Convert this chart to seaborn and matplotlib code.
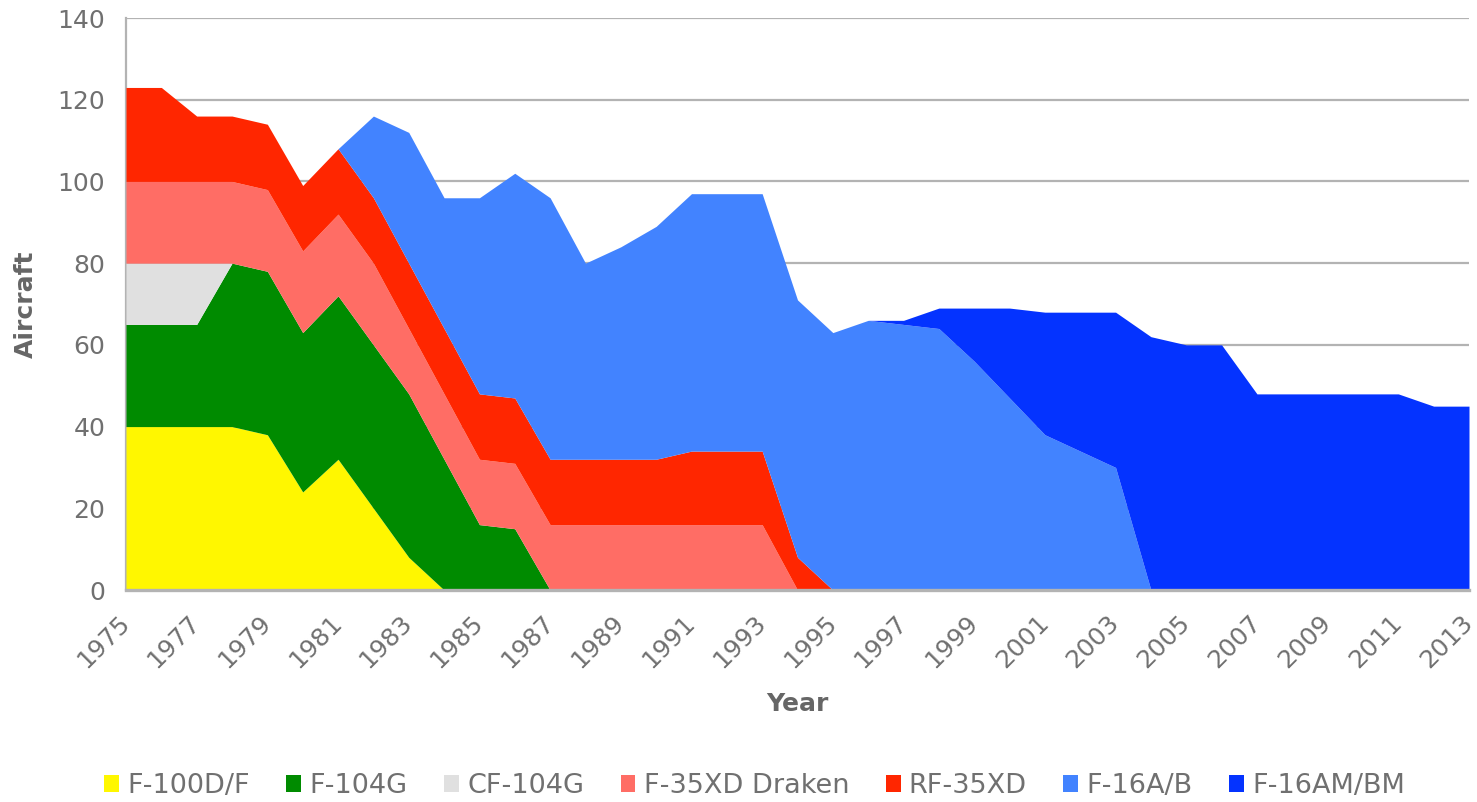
import numpy as np
import pandas as pd
import seaborn as sns
import matplotlib.pyplot as plt

years = list(range(1975, 2014))

f100 = [40, 40, 40, 40, 38, 24, 32, 20, 8] + [0] * 30
f104 = [25, 25, 25, 40, 40, 39, 40, 40, 40, 32, 16, 15] + [0] * 27
cf104 = [15, 15, 15] + [0] * 36
f35 = [20, 20, 20, 20, 20, 20, 20, 20, 16, 16, 16, 16, 16, 16, 16, 16, 16, 16, 16] + [0] * 20
rf35 = [23, 23, 16, 16, 16, 16, 16, 16, 16, 16, 16, 16, 16, 16, 16, 16, 18, 18, 18, 8] + [0] * 19
f16ab = ([0] * 6 + [0, 20, 32, 32, 48, 55, 64, 48, 52, 57, 63, 63, 63, 63, 63,
                    66, 65, 64, 56, 47, 38, 34, 30] + [0] * 10)
f16ambm = ([0] * 21 + [0, 1, 5, 13, 22, 30, 34, 38, 62, 60, 60, 48, 48, 48, 48, 48, 45, 45])

names = ["F-100D/F", "F-104G", "CF-104G", "F-35XD Draken", "RF-35XD", "F-16A/B", "F-16AM/BM"]
colors = ["#FFF700", "#008B00", "#E0E0E0", "#FF6D65", "#FF2600", "#4283FF", "#0433FF"]

df = pd.DataFrame({"Year": years, "F-100D/F": f100, "F-104G": f104, "CF-104G": cf104,
                   "F-35XD Draken": f35, "RF-35XD": rf35, "F-16A/B": f16ab,
                   "F-16AM/BM": f16ambm})

sns.set_theme(style="white")
plt.rcParams['font.family'] = ['DejaVu Sans']

grey = "#B3B3B3"
txt = "#707070"

fig = plt.figure(figsize=(14.77, 8.02), dpi=100)
ax = fig.add_axes([126 / 1477, 1 - 590 / 802, 1343 / 1477, 572 / 802])

ax.stackplot(df["Year"], [df[n] for n in names], labels=names, colors=colors,
             linewidth=0, zorder=3)

ax.set_xlim(1975, 2013)
ax.set_ylim(0, 140)
ax.set_yticks(range(0, 141, 20))
ax.set_xticks(years, minor=True)
ax.set_xticks(years[::2])
ax.set_xticklabels([str(y) for y in years[::2]], rotation=45, ha="right",
                   va="center", rotation_mode="anchor")
ax.yaxis.grid(True, color=grey, linewidth=1.6, zorder=0)
ax.set_axisbelow(True)

for s in ["top", "right"]:
    ax.spines[s].set_visible(False)
ax.spines["left"].set_color(grey)
ax.spines["left"].set_linewidth(1.6)
ax.spines["bottom"].set_color(grey)
ax.spines["bottom"].set_linewidth(2.4)
ax.spines["bottom"].set_zorder(5)

ax.tick_params(axis="both", which="both", direction="out", color=grey, width=1.3,
               length=7, labelsize=18, labelcolor=txt)
ax.tick_params(axis="x", which="major", pad=14)
ax.tick_params(axis="y", pad=8)

ax.set_xlabel("Year", fontsize=18, fontweight="bold", color="#666666")
ax.xaxis.set_label_coords(0.5, -0.178)
ax.set_ylabel("Aircraft", fontsize=18, fontweight="bold", color="#666666", labelpad=14)

leg = ax.legend(loc="center", bbox_to_anchor=(0.468, -0.343), ncol=7, frameon=False,
                fontsize=19.5, handlelength=0.55, handleheight=0.55, handletextpad=0.3,
                columnspacing=1.35, labelcolor=txt)

fig.savefig("out.png", dpi=100)
